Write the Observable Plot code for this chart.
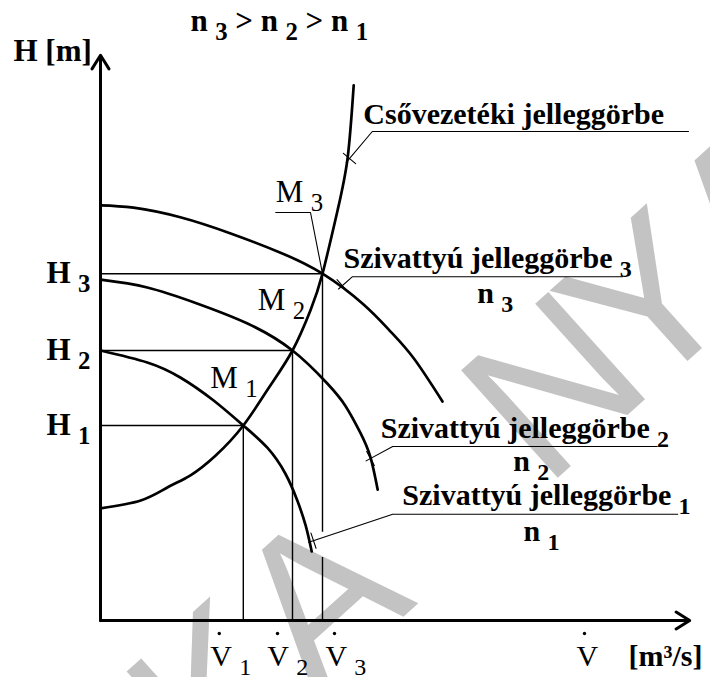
<!DOCTYPE html>
<html>
<head>
<meta charset="utf-8">
<script src="https://cdn.jsdelivr.net/npm/d3@7"></script>
<script src="https://cdn.jsdelivr.net/npm/@observablehq/plot@0.6"></script>
<style>
  body { margin: 0; background: #fff; }
</style>
</head>
<body>
<div id="chart"></div>
<script>
// Operating points M1..M3: flow rate V and head H (schematic units)
const opNames = ["1", "2", "3"];
const opV = [2.38, 3.2, 3.7];
const opH = [3.25, 4.5, 5.78];

// Pump characteristic curves at speeds n1 < n2 < n3
const pump1V = [0, 0.78, 1.33, 1.88, 2.38, 2.78, 3.08, 3.28, 3.42, 3.52];
const pump1H = [4.5, 4.3, 4.05, 3.67, 3.25, 2.88, 2.45, 2.0, 1.58, 1.15];
const pump2V = [0, 0.78, 1.62, 2.45, 3.2, 3.78, 4.08, 4.33, 4.5, 4.62];
const pump2H = [5.68, 5.55, 5.28, 4.95, 4.5, 3.95, 3.58, 3.13, 2.72, 2.18];
const pump3V = [0, 0.55, 1.33, 2.17, 3.0, 3.7, 4.38, 4.83, 5.22, 5.7];
const pump3H = [6.92, 6.88, 6.72, 6.45, 6.13, 5.78, 5.27, 4.82, 4.37, 3.65];

// Pipeline (system) characteristic curve
const sysV = [0, 0.67, 1.12, 1.5, 1.92, 2.38, 2.8, 3.2, 3.5, 3.7, 3.95, 4.12, 4.22];
const sysH = [1.87, 2.0, 2.22, 2.42, 2.75, 3.25, 3.87, 4.5, 5.17, 5.78, 6.83, 7.72, 8.92];

// Watermark letters
const markLetters = ["K", "A", "N", "Y", "A", "G"];

// ---- tables built from the arrays above ----
const ops = opV.map((V, i) => ({V, H: opH[i], n: opNames[i]}));
const pumps = [
  [pump1V, pump1H, "n1"], [pump2V, pump2H, "n2"], [pump3V, pump3H, "n3"]
].flatMap(([vs, hs, id]) => vs.map((V, i) => ({V, H: hs[i], id})));
const system = sysV.map((V, i) => ({V, H: sysH[i]}));

// Layout: both axes run 0..10 over 600 px, i.e. 60 px per unit
const PX = 60;
const serif = "'Liberation Serif', 'Times New Roman', serif";
const sans = "'Liberation Sans', Arial, sans-serif";
const BLACK = "#000";

// Callout leader: from the curve contact point up to the underline of a label
function callout(id, contact, corner, endV) {
  const dv = corner[0] - contact[0], dh = corner[1] - contact[1];
  const L = Math.hypot(dv, dh);
  const ux = dv / L, uy = dh / L;
  const ext = [contact[0] - ux * 5 / PX, contact[1] - uy * 5 / PX];
  const px = uy, py = -ux; // perpendicular
  const t = 8 / PX;
  return [
    ...[ext, corner, [endV, corner[1]]].map(([V, H]) => ({V, H, id})),
    ...[[contact[0] - px * t, contact[1] - py * t], [contact[0] + px * t, contact[1] + py * t]]
      .map(([V, H]) => ({V, H, id: id + "-tick"}))
  ];
}

const leaders = [
  ...callout("sys", [4.15, 7.70], [4.53, 8.15], 9.8),
  ...callout("p3", [4.03, 5.58], [4.2, 5.73], 8.7),
  ...callout("p2", [4.5, 2.70], [4.87, 2.9], 9.28),
  ...callout("p1", [3.55, 1.33], [4.87, 1.77], 9.62),
  // M3 label leader: under the label, then down to the operating point
  ...[[ops[2].V - 0.78, ops[2].H + 1.02], [ops[2].V - 0.2, ops[2].H + 1.02], [ops[2].V, ops[2].H]]
    .map(([V, H]) => ({V, H, id: "m3"}))
];

// Vertical guide lines from each operating point down to the V axis
const vGuides = [
  {V: ops[0].V, y1: ops[0].H, y2: 0},
  {V: ops[1].V, y1: ops[1].H, y2: 0},
  {V: ops[2].V, y1: ops[2].H, y2: 1.47},
  {V: ops[2].V, y1: 1.05, y2: 0}
];

// Text labels (underscore marks a subscript, rendered below)
const curveLabels = [
  {text: "Csővezetéki jelleggörbe", V: 4.38, H: 8.28},
  {text: "Szivattyú jelleggörbe_3", V: 4.05, H: 5.87},
  {text: "n_3", V: 6.28, H: 5.30},
  {text: "Szivattyú jelleggörbe_2", V: 4.67, H: 3.05},
  {text: "n_2", V: 6.88, H: 2.50},
  {text: "Szivattyú jelleggörbe_1", V: 5.03, H: 1.92},
  {text: "n_1", V: 7.05, H: 1.33}
];
const mOffsets = [[-0.55, 0.62], [-0.58, 0.67], [-0.78, 1.19]];
const mLabels = ops.map((d, i) => ({text: "M_" + d.n, V: d.V + mOffsets[i][0], H: d.H + mOffsets[i][1]}));
const vOffsets = [[-0.55, -0.4], [-0.42, -0.25], [0.05, 0.2]];
const vLabels = ops.map((d, i) => ({text: "V_" + d.n, V: d.V + vOffsets[i][0], H: 0}));
const vDots = ops.map((d, i) => ({V: d.V + vOffsets[i][1], H: 0}));

// Watermark: letters set along a rotated baseline, with extra gaps after some letters
const markSize = 210, markAngle = -42;
const markGap = [0, 170, -20, 0, 0, 0];
const ctx = document.createElement("canvas").getContext("2d");
ctx.font = `${markSize}px 'Liberation Sans'`;
const bx = Math.cos(markAngle * Math.PI / 180), by = Math.sin(markAngle * Math.PI / 180);
let along = 0;
const markPlaced = markLetters.map((ch, i) => {
  const p = {ch, dx: 110 + along * bx, dy: 770 + along * by};
  along += ctx.measureText(ch).width + markGap[i];
  return p;
});

const svg = Plot.plot({
  width: 710,
  height: 677,
  marginLeft: 100,
  marginRight: 10,
  marginTop: 20,
  marginBottom: 57,
  x: {domain: [0, 10], axis: null},
  y: {domain: [0, 10], axis: null},
  style: {fontFamily: serif, background: "#fff", color: BLACK},
  marks: [
    // faint watermark across the drawing
    ...markPlaced.map(m => Plot.text([m.ch], {
      text: d => d, frameAnchor: "top-left", dx: m.dx, dy: m.dy, rotate: markAngle,
      fontSize: markSize, fontFamily: sans, fill: "#c3c3c3", textAnchor: "start", lineAnchor: "bottom"
    })),
    // guide lines to the axes
    Plot.ruleY(ops, {y: "H", x1: 0, x2: "V", stroke: BLACK, strokeWidth: 1.4}),
    Plot.ruleX(vGuides, {x: "V", y1: "y1", y2: "y2", stroke: BLACK, strokeWidth: 1.4}),
    // characteristic curves
    Plot.line(pumps, {x: "V", y: "H", z: "id", curve: "natural", stroke: BLACK, strokeWidth: 2.7}),
    Plot.line(system, {x: "V", y: "H", curve: "natural", stroke: BLACK, strokeWidth: 2.7}),
    // leaders
    Plot.line(leaders, {x: "V", y: "H", z: "id", stroke: BLACK, strokeWidth: 1.1}),
    // axes with open arrowheads
    Plot.arrow([{x1: 0, y1: 0, x2: 9.82, y2: 0}, {x1: 0, y1: 0, x2: 0, y2: 9.42}], {
      x1: "x1", y1: "y1", x2: "x2", y2: "y2", stroke: BLACK, strokeWidth: 3, headLength: 8, headAngle: 64
    }),
    // head labels on the H axis
    Plot.text(ops, {
      x: 0, y: "H", text: d => "H_" + d.n, textAnchor: "end", lineAnchor: "bottom",
      dx: -10, dy: 9, fontSize: 31, fontWeight: "bold", fill: BLACK
    }),
    // flow labels on the V axis
    Plot.text(vLabels, {
      x: "V", y: "H", text: "text", textAnchor: "start", lineAnchor: "bottom",
      dy: 45, fontSize: 30, fill: BLACK
    }),
    Plot.dot(vDots, {x: "V", y: "H", dy: 13, r: 1.7, fill: BLACK, stroke: null}),
    // operating point labels
    Plot.text(mLabels, {
      x: "V", y: "H", text: "text", textAnchor: "start", lineAnchor: "bottom",
      fontSize: 31, fill: BLACK
    }),
    // curve names
    Plot.text(curveLabels, {
      x: "V", y: "H", text: "text", textAnchor: "start", lineAnchor: "bottom",
      fontSize: 30, fontWeight: "bold", fill: BLACK
    }),
    // axis titles and speed ordering
    Plot.text(["H [m]"], {
      text: d => d, frameAnchor: "top-left", dx: -87, dy: 40, textAnchor: "start",
      lineAnchor: "bottom", fontSize: 31, fontWeight: "bold", fill: BLACK
    }),
    Plot.text(["n_3 > n_2 > n_1"], {
      text: d => d, frameAnchor: "top-left", dx: 90, dy: 10, textAnchor: "start",
      lineAnchor: "bottom", fontSize: 31, fontWeight: "bold", fill: BLACK
    }),
    Plot.text(["V"], {
      text: d => d, frameAnchor: "bottom-left", dx: 476, dy: 45, textAnchor: "start",
      lineAnchor: "bottom", fontSize: 30, fill: BLACK
    }),
    Plot.dot([0], {frameAnchor: "bottom-left", dx: 484, dy: 13, r: 1.7, fill: BLACK, stroke: null}),
    Plot.text(["[m³/s]"], {
      text: d => d, frameAnchor: "bottom-left", dx: 528, dy: 45, textAnchor: "start",
      lineAnchor: "bottom", fontSize: 30, fontWeight: "bold", fill: BLACK
    })
  ]
});

// Render "X_k" as X with a lowered, smaller k
d3.select(svg).selectAll("text").each(function () {
  const s = this.textContent;
  if (!s.includes("_")) return;
  const parts = s.split(/_(.)/);
  while (this.firstChild) this.removeChild(this.firstChild);
  let lowered = false;
  parts.forEach((p, i) => {
    if (!p) return;
    const t = d3.select(this).append("tspan").text(p);
    if (i % 2 === 1) {
      t.attr("font-size", "80%").attr("dx", "0.3em");
      if (!lowered) { t.attr("dy", 9); lowered = true; }
    } else if (lowered) {
      t.attr("dy", -9); lowered = false;
    }
  });
});

document.getElementById("chart").appendChild(svg);
</script>
</body>
</html>
